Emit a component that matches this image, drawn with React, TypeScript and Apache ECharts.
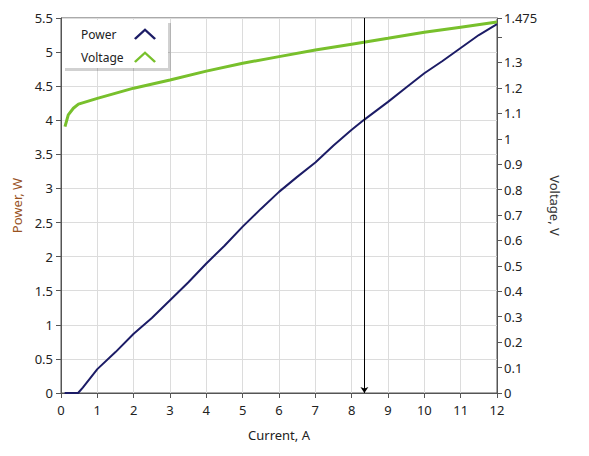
import React, { useEffect, useRef } from "react";
import * as echarts from "echarts";

const powerCurrent = [0.1, 0.47, 0.6, 1, 1.5, 2, 2.5, 3, 3.5, 4, 4.5, 5, 5.5, 6, 6.5, 7, 7.5, 8, 8.35, 9, 9.5, 10, 10.5, 11, 11.5, 12];
const powerValues = [0, 0, 0.08, 0.35, 0.6, 0.87, 1.1, 1.36, 1.62, 1.9, 2.16, 2.44, 2.7, 2.95, 3.17, 3.38, 3.63, 3.86, 4.01, 4.27, 4.48, 4.69, 4.87, 5.06, 5.25, 5.41];

const voltageCurrent = [0.11, 0.2, 0.34, 0.48, 1, 2, 3, 4, 5, 6, 7, 8, 9, 10, 11, 12];
const voltageValues = [1.048, 1.094, 1.12, 1.136, 1.159, 1.199, 1.231, 1.266, 1.297, 1.323, 1.349, 1.372, 1.395, 1.419, 1.439, 1.459];

const markerCurrent = 8.35;
const seriesNames = ["Power", "Voltage"];

const FONT = "'Noto Sans', 'DejaVu Sans', sans-serif";
const CHEVRON = "path://M0,10 L11,0 L22,10 L20.2,11.4 L11,3 L1.8,11.4 Z";
const LEGEND_TEXT_BOX = 48;

function measure(text: string, font: string): number {
  try {
    const ctx = document.createElement("canvas").getContext("2d");
    if (!ctx) return text.length * 6.5;
    ctx.font = font;
    return ctx.measureText(text).width;
  } catch (e) {
    return text.length * 6.5;
  }
}

export default function App() {
  const ref = useRef<HTMLDivElement>(null);
  useEffect(() => {
    if (!ref.current) return;
    const chart = echarts.init(ref.current, undefined, { renderer: "svg" });
    const axisLine = { show: true, lineStyle: { color: "#555", width: 1 } };
    const axisTick = { show: true, length: 5, lineStyle: { color: "#555" } };
    const labelStyle = { color: "#222", fontSize: 13, fontFamily: FONT };
    const legendData = seriesNames.map((n) => {
      const w = measure(n, "12px 'Noto Sans'");
      return {
        name: n,
        icon: CHEVRON,
        textStyle: { padding: [0, Math.max(0, LEGEND_TEXT_BOX - w), 0, 0] },
      };
    });
    chart.setOption({
      animation: false,
      backgroundColor: "#fff",
      textStyle: { fontFamily: FONT },
      grid: {
        left: 61, right: 92, top: 18, bottom: 63,
        show: true, borderColor: "#555", borderWidth: 1, backgroundColor: "transparent",
      },
      legend: {
        left: 62, top: 20, orient: "vertical", align: "right",
        padding: [8, 12, 5, 19],
        itemWidth: 22, itemHeight: 12, itemGap: 11,
        backgroundColor: "#fff",
        shadowColor: "rgba(0,0,0,0.18)", shadowBlur: 0, shadowOffsetX: 3, shadowOffsetY: 3,
        textStyle: { color: "#222", fontSize: 12, fontFamily: FONT },
        data: legendData,
      },
      xAxis: {
        type: "value", min: 0, max: 12, interval: 1,
        name: "Current, A", nameLocation: "middle", nameGap: 35,
        nameTextStyle: { color: "#222", fontSize: 13, fontFamily: FONT },
        axisLine, axisTick, axisLabel: { ...labelStyle, margin: 10 },
        splitLine: { show: true, lineStyle: { color: "#dcdcdc", width: 1 } },
      },
      yAxis: [
        {
          type: "value", min: 0, max: 5.5, interval: 0.5, position: "left",
          name: "Power, W", nameLocation: "middle", nameGap: 34,
          nameTextStyle: { color: "#99531f", fontSize: 13, fontFamily: FONT },
          axisLine, axisTick, axisLabel: { ...labelStyle, margin: 8 },
          splitLine: { show: true, lineStyle: { color: "#dcdcdc", width: 1 } },
        },
        {
          type: "value", min: 0, max: 1.475, interval: 0.1, position: "right",
          name: "Voltage, V", nameLocation: "middle", nameGap: 51, nameRotate: -90,
          nameTextStyle: { color: "#333", fontSize: 13, fontFamily: FONT },
          axisLine, axisTick,
          axisLabel: {
            ...labelStyle, margin: 7,
            formatter: (v: number) => (Math.abs(v - 1.4) < 1e-6 ? "" : String(v)),
          },
          splitLine: { show: false },
        },
      ],
      series: [
        {
          name: seriesNames[0], type: "line", yAxisIndex: 0, showSymbol: false,
          color: "#1c1c66", clip: false,
          lineStyle: { color: "#1c1c66", width: 2 },
          data: powerCurrent.map((c, i) => [c, powerValues[i]]),
          z: 3,
          markLine: {
            silent: true, animation: false,
            symbol: ["none", "arrow"], symbolSize: [6, 6],
            label: { show: false },
            lineStyle: { color: "#000", width: 1, type: "solid" },
            data: [[{ coord: [markerCurrent, 5.5] }, { coord: [markerCurrent, 0] }]],
          },
        },
        {
          name: seriesNames[1], type: "line", yAxisIndex: 1, showSymbol: false,
          color: "#78c02c",
          lineStyle: { color: "#78c02c", width: 3 },
          data: voltageCurrent.map((c, i) => [c, voltageValues[i]]),
          z: 2,
        },
      ],
    });
    return () => chart.dispose();
  }, []);
  return <div ref={ref} style={{ position: "fixed", left: 0, top: 0, width: 589, height: 456 }} />;
}
